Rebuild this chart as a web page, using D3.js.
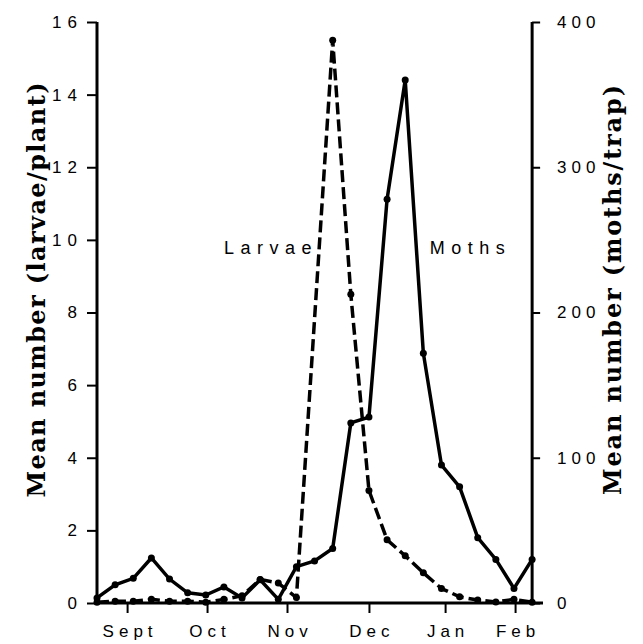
<!DOCTYPE html>
<html lang="en">
<head>
	<meta charset="UTF-8">
	<title>Larvae and moths</title>
	<script src="https://cdn.jsdelivr.net/npm/d3@7"></script>
	<style>
		body { margin: 0; background: #fff; }
		svg { display: block; }
		.tick text, .lbl { font-family: "Liberation Sans", Arial, sans-serif; fill: #000; }
		.ytitle { font-family: "DejaVu Serif", serif; font-weight: bold; fill: #000; }
	</style>
</head>
<body>
<svg id="viz"></svg>
<script>
// week index of each sample
const larvaeWeeks = [0, 1, 2, 3, 4, 5, 6, 7, 8, 9, 10, 11, 13, 14, 15, 16, 17, 18, 19, 20, 21, 22, 23, 24];
// larvae per plant (left axis)
const larvae = [0.02, 0.05, 0.05, 0.1, 0.05, 0.05, 0.02, 0.1, 0.2, 0.65, 0.55, 0.15, 15.5, 8.5, 3.1, 1.74, 1.3, 0.83, 0.4, 0.17, 0.08, 0.03, 0.1, 0.02];
const mothWeeks = [0, 1, 2, 3, 4, 5, 6, 7, 8, 9, 10, 11, 12, 13, 14, 15, 16, 17, 18, 19, 20, 21, 22, 23, 24];
// moths per trap (right axis)
const moths = [3.5, 12.5, 17, 31, 16.5, 7, 5.5, 11, 3.5, 16, 2.5, 25, 29, 37.5, 124, 128, 278, 360, 172, 95, 80, 45, 30, 10, 30];

const monthNames = ['Sept', 'Oct', 'Nov', 'Dec', 'Jan', 'Feb'];
const monthPos = [1.66, 6.07, 10.48, 15.0, 19.2, 23.06];
const leftTicks = [0, 2, 4, 6, 8, 10, 12, 14, 16];
const rightTicks = [0, 100, 200, 300, 400];

const width = 643, height = 644;
const svg = d3.select('#viz').attr('width', width).attr('height', height);

const x = d3.scaleLinear().domain([0, 24.6]).range([97, 543]);
const yL = d3.scaleLinear().domain([0, 16]).range([603, 22]);
const yR = d3.scaleLinear().domain([0, 400]).range([603, 22]);

// bottom axis
const bottom = svg.append('g')
	.attr('transform', 'translate(0,603)')
	.call(d3.axisBottom(x).tickValues(monthPos).tickFormat((d, i) => monthNames[i]).tickSize(10).tickPadding(19));
bottom.select('.domain').attr('stroke-width', 3).attr('d', `M${x(0)},0H${x(24.6)}`);
bottom.selectAll('.tick line').attr('stroke-width', 2);
bottom.selectAll('.tick text').attr('font-size', 17).attr('letter-spacing', 5).attr('dx', 2.5).attr('dy', '0.3em');

// left axis
const left = svg.append('g')
	.attr('transform', `translate(${x(0)},0)`)
	.call(d3.axisLeft(yL).tickValues(leftTicks).tickSize(10).tickPadding(10));
left.select('.domain').attr('stroke-width', 3).attr('d', `M0,${yL(0)}V${yL(16)}`);
left.selectAll('.tick line').attr('stroke-width', 2);
left.selectAll('.tick text').attr('font-size', 17).attr('letter-spacing', 6).attr('dx', 6);

// right axis
const right = svg.append('g')
	.attr('transform', `translate(${x(24)},0)`)
	.call(d3.axisRight(yR).tickValues(rightTicks).tickSize(8).tickPadding(17));
right.select('.domain').attr('stroke-width', 3).attr('d', `M0,${yR(0)}V${yR(400)}`);
right.selectAll('.tick line').attr('stroke-width', 2);
right.selectAll('.tick text').attr('font-size', 17).attr('letter-spacing', 5);

// axis titles
svg.append('text').attr('class', 'ytitle')
	.attr('transform', 'translate(45,290) rotate(-90)')
	.attr('text-anchor', 'middle').attr('font-size', 24)
	.attr('textLength', 415).attr('lengthAdjust', 'spacing')
	.text('Mean number (larvae/plant)');
svg.append('text').attr('class', 'ytitle')
	.attr('transform', 'translate(621,290) rotate(-90)')
	.attr('text-anchor', 'middle').attr('font-size', 24)
	.attr('textLength', 410).attr('lengthAdjust', 'spacing')
	.text('Mean number (moths/trap)');

// series
const larvaeLine = d3.line().x((d, i) => x(larvaeWeeks[i])).y(d => yL(d));
const mothLine = d3.line().x((d, i) => x(mothWeeks[i])).y(d => yR(d));

svg.append('path').datum(larvae)
	.attr('d', larvaeLine).attr('fill', 'none').attr('stroke', '#000')
	.attr('stroke-width', 3.5).attr('stroke-dasharray', '12,5');
svg.append('path').datum(moths)
	.attr('d', mothLine).attr('fill', 'none').attr('stroke', '#000')
	.attr('stroke-width', 3.5);

svg.append('g').selectAll('circle').data(larvae).join('circle')
	.attr('cx', (d, i) => x(larvaeWeeks[i])).attr('cy', d => yL(d)).attr('r', 3.5).attr('fill', '#000');
svg.append('g').selectAll('circle').data(moths).join('circle')
	.attr('cx', (d, i) => x(mothWeeks[i])).attr('cy', d => yR(d)).attr('r', 3.5).attr('fill', '#000');

// series labels
svg.append('text').attr('class', 'lbl').attr('x', x(9.6)).attr('y', yL(9.6))
	.attr('text-anchor', 'middle').attr('font-size', 18).attr('letter-spacing', 6.5).text('Larvae');
svg.append('text').attr('class', 'lbl').attr('x', x(20.6)).attr('y', yL(9.6))
	.attr('text-anchor', 'middle').attr('font-size', 18).attr('letter-spacing', 6.5).text('Moths');
</script>
</body>
</html>
